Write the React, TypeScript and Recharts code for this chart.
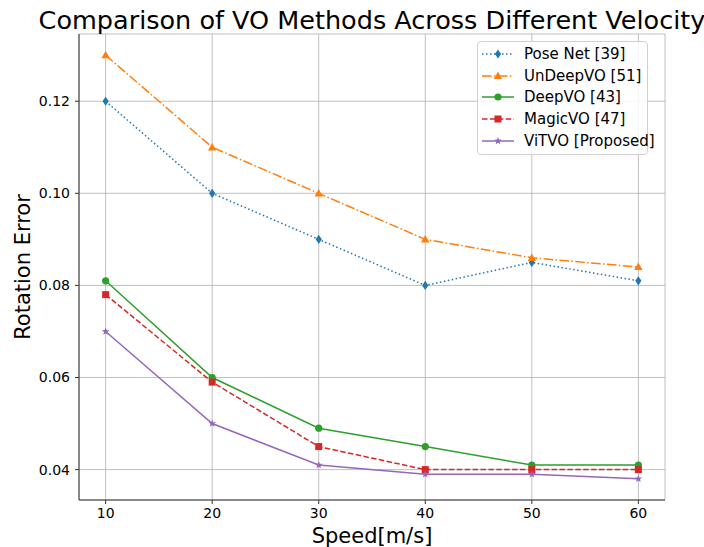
import { CartesianGrid, Legend, Line, LineChart, XAxis, YAxis } from "recharts";

// speed in m/s
const speeds = [10, 20, 30, 40, 50, 60];

const poseNet = [0.12, 0.1, 0.09, 0.08, 0.085, 0.081];
const unDeepVO = [0.13, 0.11, 0.1, 0.09, 0.086, 0.084];
const deepVO = [0.081, 0.06, 0.049, 0.045, 0.041, 0.041];
const magicVO = [0.078, 0.059, 0.045, 0.04, 0.04, 0.04];
const viTVO = [0.07, 0.05, 0.041, 0.039, 0.039, 0.038];

const xTicks = [10, 20, 30, 40, 50, 60];
const yTicks = [0.04, 0.06, 0.08, 0.1, 0.12];

const FONT = "'DejaVu Sans', sans-serif";
const SPINE = "#333";

type MarkerKind = "diamond" | "triangle" | "circle" | "square" | "star";

const seriesDefs = [
    { key: "poseNet", name: "Pose Net [39]", color: "#1f77b4", dash: "1.5 2.5", marker: "diamond" as MarkerKind, values: poseNet },
    { key: "unDeepVO", name: "UnDeepVO [51]", color: "#ff7f0e", dash: "9.6 2.4 1.5 2.4", marker: "triangle" as MarkerKind, values: unDeepVO },
    { key: "deepVO", name: "DeepVO [43]", color: "#2ca02c", dash: undefined, marker: "circle" as MarkerKind, values: deepVO },
    { key: "magicVO", name: "MagicVO [47]", color: "#d62728", dash: "5.5 2.4", marker: "square" as MarkerKind, values: magicVO },
    { key: "viTVO", name: "ViTVO [Proposed]", color: "#9467bd", dash: undefined, marker: "star" as MarkerKind, values: viTVO },
];

const data = speeds.map((speed, i) => {
    const row: Record<string, number> = { speed };
    seriesDefs.forEach((s) => { row[s.key] = s.values[i]; });
    return row;
});

function starPath(cx: number, cy: number, outer: number, inner: number) {
    let d = "";
    for (let i = 0; i < 10; i++) {
        const r = i % 2 === 0 ? outer : inner;
        const a = -Math.PI / 2 + (i * Math.PI) / 5;
        d += (i === 0 ? "M" : "L") + (cx + r * Math.cos(a)).toFixed(2) + "," + (cy + r * Math.sin(a)).toFixed(2);
    }
    return d + "Z";
}

function Marker({ kind, cx, cy, color }: { kind: MarkerKind; cx: number; cy: number; color: string }) {
    switch (kind) {
        case "diamond":
            return <path d={`M${cx},${cy - 4.6} L${cx + 3.1},${cy} L${cx},${cy + 4.6} L${cx - 3.1},${cy} Z`} fill={color} />;
        case "triangle":
            return <path d={`M${cx},${cy - 4.4} L${cx + 4.2},${cy + 3.1} L${cx - 4.2},${cy + 3.1} Z`} fill={color} />;
        case "circle":
            return <circle cx={cx} cy={cy} r={3.6} fill={color} />;
        case "square":
            return <rect x={cx - 3.5} y={cy - 3.5} width={7} height={7} fill={color} />;
        case "star":
            return <path d={starPath(cx, cy, 4, 1.7)} fill={color} />;
    }
}

function LegendBox() {
    return (
        <div
            style={{
                border: "1px solid #d0d0d0",
                borderRadius: 4,
                background: "rgba(255,255,255,0.85)",
                padding: "1px 4px 3px 4px",
                fontFamily: FONT,
                fontSize: 15,
                color: "#000",
                width: 171,
                boxSizing: "border-box",
            }}
        >
            {seriesDefs.map((s) => (
                <div key={s.key} style={{ display: "flex", alignItems: "center", height: 21.7, whiteSpace: "nowrap" }}>
                    <svg width={32} height={12} style={{ marginRight: 10, flexShrink: 0 }}>
                        <line x1={0} y1={6} x2={32} y2={6} stroke={s.color} strokeWidth={1.5} strokeDasharray={s.dash} />
                        <Marker kind={s.marker} cx={16} cy={6} color={s.color} />
                    </svg>
                    <span>{s.name}</span>
                </div>
            ))}
        </div>
    );
}

export default function App() {
    return (
        <div style={{ position: "absolute", left: 0, top: 0, width: 704, height: 547, background: "#fff" }}>
            <LineChart
                width={704}
                height={547}
                data={data}
                margin={{ top: 34, right: 39, left: 0, bottom: 0 }}
                style={{ fontFamily: FONT }}
            >
                <CartesianGrid stroke="#b0b0b0" strokeWidth={0.8} />
                <XAxis
                    dataKey="speed"
                    type="number"
                    domain={[7.5, 62.5]}
                    ticks={xTicks}
                    height={47}
                    stroke={SPINE}
                    tickSize={4}
                    tickMargin={4}
                    tick={{ fill: "#000", fontSize: 14, fontFamily: FONT }}
                />
                <XAxis xAxisId="top" orientation="top" type="number" domain={[7.5, 62.5]} height={0} tick={false} tickLine={false} stroke={SPINE} />
                <YAxis
                    type="number"
                    domain={[0.0334, 0.1346]}
                    ticks={yTicks}
                    width={79}
                    stroke={SPINE}
                    tickSize={4}
                    tickMargin={5}
                    tickFormatter={(v: number) => v.toFixed(2)}
                    tick={{ fill: "#000", fontSize: 14, fontFamily: FONT }}
                />
                <YAxis yAxisId="right" orientation="right" type="number" domain={[0.0334, 0.1346]} width={0} tick={false} tickLine={false} stroke={SPINE} />
                <Legend
                    layout="vertical"
                    verticalAlign="middle"
                    align="center"
                    wrapperStyle={{ top: 41, left: 477, width: "auto" }}
                    content={() => <LegendBox />}
                />
                {seriesDefs.map((s) => (
                    <Line
                        key={s.key}
                        dataKey={s.key}
                        name={s.name}
                        type="linear"
                        stroke={s.color}
                        strokeWidth={1.5}
                        strokeDasharray={s.dash}
                        isAnimationActive={false}
                        activeDot={false}
                        dot={(p: any) => <Marker key={`${s.key}-${p.index}`} kind={s.marker} cx={p.cx} cy={p.cy} color={s.color} />}
                    />
                ))}
                <text x={372} y={29} textAnchor="middle" fontSize={25.5} fontFamily={FONT} fill="#000">
                    Comparison of VO Methods Across Different Velocity
                </text>
                <text x={372} y={543} textAnchor="middle" fontSize={21} fontFamily={FONT} fill="#000">
                    Speed[m/s]
                </text>
                <text x={30} y={267} textAnchor="middle" fontSize={21} fontFamily={FONT} fill="#000" transform="rotate(-90 30 267)">
                    Rotation Error
                </text>
            </LineChart>
        </div>
    );
}
